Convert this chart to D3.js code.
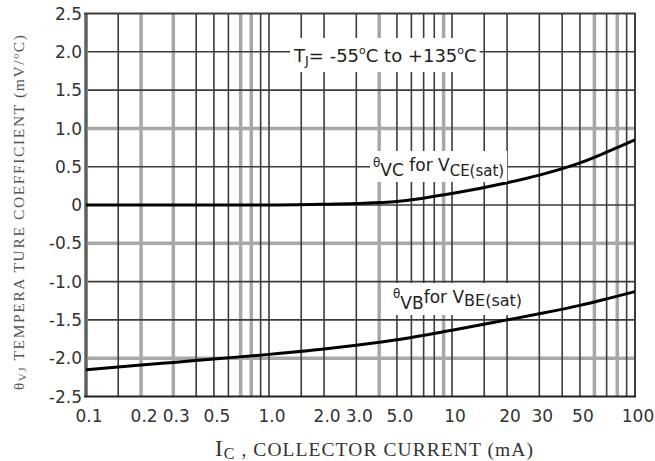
<!DOCTYPE html>
<html>
<head>
<meta charset="utf-8">
<script src="https://cdn.jsdelivr.net/npm/d3@7"></script>
<style>
  html, body { margin: 0; padding: 0; background: #fff; }
  svg { display: block; }
</style>
</head>
<body>
<svg id="chart" width="655" height="461"></svg>
<script>
// ---- data ----
const xTickValues = [0.1, 0.2, 0.3, 0.5, 1.0, 2.0, 3.0, 5.0, 10, 20, 30, 50, 100];
const xTickLabels = ["0.1", "0.2", "0.3", "0.5", "1.0", "2.0", "3.0", "5.0", "10", "20", "30", "50", "100"];
const yTickValues = [2.5, 2.0, 1.5, 1.0, 0.5, 0, -0.5, -1.0, -1.5, -2.0, -2.5];
const yTickLabels = ["2.5", "2.0", "1.5", "1.0", "0.5", "0", "-0.5", "-1.0", "-1.5", "-2.0", "-2.5"];
const gridCurrents = [0.15, 0.2, 0.3, 0.4, 0.5, 0.6, 0.7, 0.8, 0.9, 1.0, 1.5, 2, 3, 4, 5, 6, 7, 8, 9, 10, 15, 20, 30, 40, 50, 60, 70, 80, 90];
const collectorCurrent = [0.1, 0.2, 0.3, 0.5, 1.0, 2.0, 3.0, 5.0, 10, 20, 30, 50, 70, 100];
const thetaVC = [0.0, 0.0, 0.0, 0.0, 0.0, 0.01, 0.02, 0.045, 0.15, 0.29, 0.39, 0.55, 0.69, 0.85];
const thetaVB = [-2.15, -2.09, -2.055, -2.01, -1.95, -1.88, -1.83, -1.76, -1.635, -1.50, -1.42, -1.31, -1.225, -1.13];

// ---- styling config (which grid lines are drawn light) ----
const lightX = new Set([0.2, 0.3, 0.7, 0.8, 4, 9, 60, 80]);
const lightY = new Set([1.0, -0.5, -2.0]);

const W = 655, H = 461;
const m = { left: 86, right: 20, top: 13.5, bottom: 64.5 };
const svg = d3.select("#chart");

const x = d3.scaleLog().domain([0.1, 100]).range([m.left, W - m.right]);
const y = d3.scaleLinear().domain([-2.5, 2.5]).range([H - m.bottom, m.top]);

const DARK = "#3c3c3c", LIGHT = "#a8a8a8";

// grid - light first, then dark
const g = svg.append("g");
const vx = gridCurrents.map(v => ({ v, light: lightX.has(v) }));
const hy = yTickValues.filter(v => v !== 2.5 && v !== -2.5).map(v => ({ v, light: lightY.has(v) }));

g.selectAll("line.vl").data(vx.filter(d => d.light)).join("line")
  .attr("x1", d => x(d.v)).attr("x2", d => x(d.v))
  .attr("y1", y(2.5)).attr("y2", y(-2.5))
  .attr("stroke", LIGHT).attr("stroke-width", 3.5);
g.selectAll("line.hl").data(hy.filter(d => d.light)).join("line")
  .attr("x1", x(0.1)).attr("x2", x(100))
  .attr("y1", d => y(d.v)).attr("y2", d => y(d.v))
  .attr("stroke", LIGHT).attr("stroke-width", 3.5);
g.selectAll("line.vd").data(vx.filter(d => !d.light)).join("line")
  .attr("x1", d => x(d.v)).attr("x2", d => x(d.v))
  .attr("y1", y(2.5)).attr("y2", y(-2.5))
  .attr("stroke", DARK).attr("stroke-width", 1.6);
g.selectAll("line.hd").data(hy.filter(d => !d.light)).join("line")
  .attr("x1", x(0.1)).attr("x2", x(100))
  .attr("y1", d => y(d.v)).attr("y2", d => y(d.v))
  .attr("stroke", DARK).attr("stroke-width", 1.6);

// frame
svg.append("line").attr("x1", x(0.1)).attr("x2", x(0.1)).attr("y1", y(2.5)).attr("y2", y(-2.5))
  .attr("stroke", "#8a8a8a").attr("stroke-width", 4);
svg.append("line").attr("x1", x(0.1)).attr("x2", x(0.1)).attr("y1", y(2.5)).attr("y2", y(-2.5))
  .attr("stroke", "#444").attr("stroke-width", 1.2);
svg.append("line").attr("x1", x(100)).attr("x2", x(100)).attr("y1", y(2.5)).attr("y2", y(-2.5))
  .attr("stroke", DARK).attr("stroke-width", 2);
svg.append("line").attr("x1", x(0.1) - 2).attr("x2", x(100) + 1).attr("y1", y(2.5)).attr("y2", y(2.5))
  .attr("stroke", DARK).attr("stroke-width", 1.8);
svg.append("line").attr("x1", x(0.1) - 2).attr("x2", x(100) + 1).attr("y1", y(-2.5)).attr("y2", y(-2.5))
  .attr("stroke", "#222").attr("stroke-width", 2.2);

// annotation labels with white backgrounds
function label(xp, yp, parts, pad) {
  const grp = svg.append("g");
  const t = grp.append("text").attr("x", xp).attr("y", yp)
    .attr("font-family", "DejaVu Sans, Verdana, sans-serif").attr("fill", "#222");
  parts.forEach(p => {
    const ts = t.append("tspan").text(p.t).attr("font-size", p.s);
    if (p.dy) ts.attr("dy", p.dy);
  });
  const b = t.node().getBBox();
  grp.insert("rect", "text")
    .attr("x", b.x - pad[0]).attr("y", b.y - pad[1])
    .attr("width", b.width + 2 * pad[0]).attr("height", b.height + pad[1] + pad[2])
    .attr("fill", "#fff");
}

// curves
const line = d3.line().x(d => x(d[0])).y(d => y(d[1])).curve(d3.curveMonotoneX);

label(294, 62, [
  { t: "T", s: 18 }, { t: "J", s: 13, dy: 3 }, { t: "= -55", s: 18, dy: -3 },
  { t: "o", s: 11, dy: -8 }, { t: "C to +135", s: 18, dy: 8 }, { t: "o", s: 11, dy: -8 }, { t: "C", s: 18, dy: 8 }
], [3, 6, 4]);

svg.append("path").datum(d3.zip(collectorCurrent, thetaVC)).attr("d", line)
  .attr("fill", "none").attr("stroke", "#000").attr("stroke-width", 3);
svg.append("path").datum(d3.zip(collectorCurrent, thetaVB)).attr("d", line)
  .attr("fill", "none").attr("stroke", "#000").attr("stroke-width", 3);

label(373, 171, [
  { t: "θ", s: 12, dy: -4 }, { t: "VC", s: 17, dy: 9 }, { t: " for V", s: 17, dy: -5 },
  { t: "CE(sat)", s: 15, dy: 5 }
], [3, 4, 2]);

label(393, 303, [
  { t: "θ", s: 12, dy: -5 }, { t: "VB", s: 17, dy: 11 }, { t: "for V", s: 17, dy: -6 },
  { t: "BE(sat)", s: 16, dy: 3 }
], [2, 4, 2]);

// tick labels
svg.append("g").selectAll("text").data(d3.zip(xTickValues, xTickLabels)).join("text")
  .attr("x", d => x(d[0]) + 3).attr("y", 422)
  .attr("text-anchor", "middle")
  .attr("font-family", "DejaVu Sans, Verdana, sans-serif").attr("font-size", 17)
  .attr("fill", "#333").text(d => d[1]);

svg.append("g").selectAll("text").data(d3.zip(yTickValues, yTickLabels)).join("text")
  .attr("x", 82).attr("y", d => y(d[0])).attr("dy", "0.36em")
  .attr("text-anchor", "end")
  .attr("font-family", "DejaVu Sans, Verdana, sans-serif").attr("font-size", 17)
  .attr("fill", "#333").text(d => d[1]);

// axis titles
const xt = svg.append("text").attr("x", 215).attr("y", 456)
  .attr("font-family", "Liberation Serif, Times New Roman, serif").attr("fill", "#333")
  .attr("textLength", 318).attr("lengthAdjust", "spacing");
xt.append("tspan").text("I").attr("font-size", 23);
xt.append("tspan").text("C").attr("font-size", 16).attr("dy", 3);
xt.append("tspan").text(" , COLLECTOR CURRENT (mA)").attr("font-size", 19.5).attr("dy", -3);

const yt = svg.append("text").attr("transform", "translate(24,390) rotate(-90)")
  .attr("font-family", "Liberation Serif, Times New Roman, serif").attr("fill", "#555")
  .attr("textLength", 355).attr("lengthAdjust", "spacing");
yt.append("tspan").text("θ").attr("font-size", 15);
yt.append("tspan").text("VJ").attr("font-size", 11).attr("dy", 2);
yt.append("tspan").text(" TEMPERA TURE COEFFICIENT (mV/").attr("font-size", 15.5).attr("dy", -2);
yt.append("tspan").text("o").attr("font-size", 10).attr("dy", -5);
yt.append("tspan").text("C)").attr("font-size", 15.5).attr("dy", 5);
</script>
</body>
</html>
